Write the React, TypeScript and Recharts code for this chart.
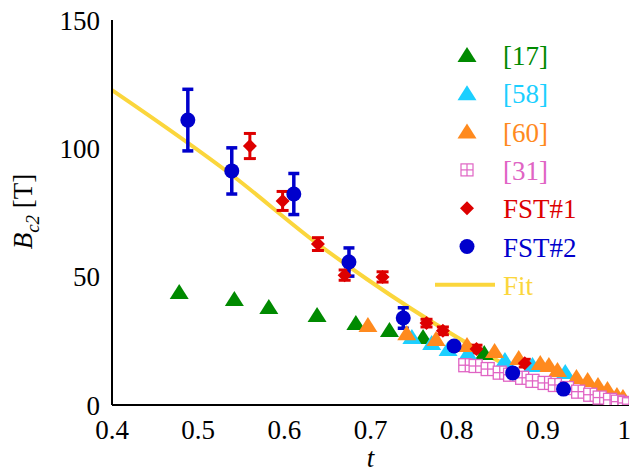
import React from 'react';
import { ComposedChart, Scatter, Line, XAxis, YAxis, ErrorBar, Legend } from 'recharts';

const FONT = "'Liberation Serif', 'Times New Roman', Tinos, 'DejaVu Serif', serif";

const xTicks = [0.4, 0.5, 0.6, 0.7, 0.8, 0.9, 1];
const yMajorTicks = [0, 50, 100, 150];
const yMinorTicks = [0, 10, 20, 30, 40, 50, 60, 70, 80, 90, 100, 110, 120, 130, 140, 150];

// [17]
const ref17T = [0.478, 0.542, 0.582, 0.638, 0.683, 0.722, 0.761, 0.832];
const ref17B = [44.0, 41.3, 38.2, 35.1, 31.9, 29.2, 26.5, 20.3];
// [58]
const ref58T = [0.748, 0.771, 0.79, 0.813, 0.856, 0.888, 0.926];
const ref58B = [26.5, 24.2, 21.8, 20.3, 17.5, 15.6, 12.9];
// [60]
const ref60T = [0.697, 0.742, 0.776, 0.812, 0.844, 0.872, 0.897, 0.907, 0.917, 0.939, 0.952, 0.964, 0.975, 0.986, 0.993];
const ref60B = [31.2, 28.0, 25.7, 23.4, 21.0, 18.3, 16.4, 15.6, 13.6, 10.9, 9.7, 7.8, 6.2, 3.9, 3.1];
// [31]
const ref31T = [0.81, 0.822, 0.836, 0.85, 0.862, 0.876, 0.888, 0.902, 0.914, 0.928, 0.941, 0.955, 0.966, 0.978, 0.987, 0.995, 1.0];
const ref31B = [15.5, 15.2, 14.0, 12.6, 11.8, 10.6, 9.4, 8.6, 7.8, 6.6, 5.2, 4.0, 2.9, 2.0, 1.3, 0.8, 0.3];
// FST#1
const fst1T = [0.56, 0.598, 0.639, 0.67, 0.714, 0.765, 0.784, 0.823, 0.879];
const fst1B = [100.9, 79.5, 62.7, 50.6, 49.9, 31.9, 28.9, 21.8, 16.3];
const fst1E = [4.9, 3.7, 2.5, 2.0, 2.0, 1.5, 1.5, 1.5, 1.5];
// FST#2
const fst2T = [0.488, 0.539, 0.611, 0.675, 0.738, 0.797, 0.865, 0.924];
const fst2B = [111.0, 91.2, 82.2, 55.7, 33.9, 23.0, 12.5, 6.2];
const fst2E = [12, 9, 8, 5.5, 4, 0, 0, 0];
// Fit
const fitT = [0.4, 0.539, 0.639, 0.696, 0.8, 0.85];
const fitB = [122.7, 89.6, 62.7, 49.0, 26.5, 16.8];

const C17 = '#008a00';
const C58 = '#1ccfff';
const C60 = '#ff8a1e';
const C31 = '#e064c4';
const CF1 = '#dd0000';
const CF2 = '#0000cc';
const CFIT = '#fbd63c';

const zip = (t: number[], b: number[], e?: number[]) =>
  t.map((v, i) => ({ t: v, B: b[i], err: e ? e[i] : 0 }));

const d17 = zip(ref17T, ref17B);
const d58 = zip(ref58T, ref58B);
const d60 = zip(ref60T, ref60B);
const d31 = zip(ref31T, ref31B);
const dF1 = zip(fst1T, fst1B, fst1E);
const dF2 = zip(fst2T, fst2B, fst2E);
const dFit = zip(fitT, fitB);

const triPath = (cx: number, cy: number) =>
  `M${cx},${cy - 8} L${cx + 9.5},${cy + 7} L${cx - 9.5},${cy + 7} Z`;

const makeTri = (color: string) => (p: any) => (
  <path d={triPath(p.cx, p.cy)} fill={color} />
);

const SquareShape = (p: any) => {
  const { cx, cy } = p;
  const h = 6.5;
  return (
    <g stroke={C31} strokeWidth={1.3} fill="#fff">
      <rect x={cx - h} y={cy - h} width={2 * h} height={2 * h} />
      <line x1={cx} y1={cy - h} x2={cx} y2={cy + h} />
      <line x1={cx - h} y1={cy} x2={cx + h} y2={cy} />
    </g>
  );
};

const DiamondShape = (p: any) => {
  const { cx, cy } = p;
  const h = 7;
  return <path d={`M${cx},${cy - h} L${cx + h},${cy} L${cx},${cy + h} L${cx - h},${cy} Z`} fill={CF1} />;
};

const CircleShape = (p: any) => <circle cx={p.cx} cy={p.cy} r={7.5} fill={CF2} />;

const legendItems = [
  { label: '[17]', color: C17, kind: 'tri17' },
  { label: '[58]', color: C58, kind: 'tri58' },
  { label: '[60]', color: C60, kind: 'tri60' },
  { label: '[31]', color: C31, kind: 'sq' },
  { label: 'FST#1', color: CF1, kind: 'dia' },
  { label: 'FST#2', color: CF2, kind: 'cir' },
  { label: 'Fit', color: CFIT, kind: 'line' },
];

const renderLegend = () => (
  <svg width={200} height={275} style={{ display: 'block', overflow: 'visible' }}>
    {legendItems.map((it, i) => {
      const cy = 25 + i * 38.3;
      const mx = 37;
      let marker: any = null;
      if (it.kind.startsWith('tri')) marker = <path d={triPath(mx, cy)} fill={it.color} />;
      else if (it.kind === 'sq') {
        const h = 6;
        marker = (
          <g stroke={it.color} strokeWidth={1.2} fill="none">
            <rect x={mx - h} y={cy - h} width={2 * h} height={2 * h} />
            <line x1={mx} y1={cy - h} x2={mx} y2={cy + h} />
            <line x1={mx - h} y1={cy} x2={mx + h} y2={cy} />
          </g>
        );
      } else if (it.kind === 'dia') {
        const h = 7;
        marker = <path d={`M${mx},${cy - h} L${mx + h},${cy} L${mx},${cy + h} L${mx - h},${cy} Z`} fill={it.color} />;
      } else if (it.kind === 'cir') marker = <circle cx={mx} cy={cy} r={7.5} fill={it.color} />;
      else marker = <line x1={5} y1={cy} x2={65} y2={cy} stroke={it.color} strokeWidth={4} />;
      return (
        <g key={it.label}>
          {marker}
          <text x={73} y={cy + 10} fontSize={27} style={{ fontFamily: FONT }} fill={it.color}>
            {it.label}
          </text>
        </g>
      );
    })}
  </svg>
);

const xLabel = (props: any) => {
  const vb = props.viewBox || {};
  return (
    <text x={vb.x + vb.width / 2} y={vb.y + vb.height - 5} textAnchor="middle" fontSize={27} style={{ fontFamily: FONT }} fontStyle="italic" fill="#000">
      t
    </text>
  );
};

const yLabel = (props: any) => {
  const vb = props.viewBox || {};
  const cx = 32;
  const cy = vb.y + vb.height / 2 - 1;
  return (
    <text transform={`translate(${cx},${cy}) rotate(-90)`} textAnchor="middle" fontSize={27} style={{ fontFamily: FONT }} fill="#000">
      <tspan fontStyle="italic">B</tspan>
      <tspan fontStyle="italic" fontSize={19} dy={7}>c2</tspan>
      <tspan dy={-7}> [T]</tspan>
    </text>
  );
};

const tickStyle = { fontSize: 27, fontFamily: FONT, fill: '#000', style: { fontFamily: FONT } };
const axisStroke = { stroke: '#000', strokeWidth: 2 };
const tickStroke = { stroke: '#000', strokeWidth: 1.5 };

export default function App() {
  return (
    <div style={{ position: 'absolute', left: 0, top: 0, width: 631, height: 472, background: '#fff', fontFamily: FONT }}>
      <ComposedChart width={631} height={472} margin={{ top: 20, right: 2, bottom: 0, left: 0 }} style={{ fontFamily: FONT }}>
        <XAxis
          xAxisId="x"
          dataKey="t"
          type="number"
          domain={[0.4, 1]}
          ticks={xTicks}
          allowDataOverflow
          height={67}
          tickLine={false}
          tickMargin={9}
          axisLine={axisStroke}
          tick={tickStyle}
          tickFormatter={(v: number) => (v === 1 ? '1' : v.toFixed(1))}
          label={xLabel}
        />
        <XAxis xAxisId="xb" type="number" domain={[0.4, 1]} ticks={xTicks} allowDataOverflow orientation="bottom" mirror height={0} tick={false} tickSize={11} axisLine={false} tickLine={tickStroke} />
        <XAxis xAxisId="xt" type="number" domain={[0.4, 1]} ticks={xTicks} allowDataOverflow orientation="top" mirror height={0} tick={false} tickSize={11} axisLine={axisStroke} tickLine={tickStroke} />
        <YAxis
          yAxisId="y"
          dataKey="B"
          type="number"
          domain={[0, 150]}
          ticks={yMajorTicks}
          allowDataOverflow
          width={112}
          tickLine={false}
          tickMargin={6}
          axisLine={axisStroke}
          tick={tickStyle}
          label={yLabel}
        />
        <YAxis yAxisId="ylM" type="number" domain={[0, 150]} ticks={yMajorTicks} allowDataOverflow orientation="left" mirror width={0} tick={false} tickSize={12} axisLine={false} tickLine={tickStroke} />
        <YAxis yAxisId="ylm" type="number" domain={[0, 150]} ticks={yMinorTicks} allowDataOverflow orientation="left" mirror width={0} tick={false} tickSize={7} axisLine={false} tickLine={tickStroke} />
        <YAxis yAxisId="yrM" type="number" domain={[0, 150]} ticks={yMajorTicks} allowDataOverflow orientation="right" mirror width={0} tick={false} tickSize={12} axisLine={axisStroke} tickLine={tickStroke} />
        <YAxis yAxisId="yrm" type="number" domain={[0, 150]} ticks={yMinorTicks} allowDataOverflow orientation="right" mirror width={0} tick={false} tickSize={7} axisLine={false} tickLine={tickStroke} />

        <Legend layout="vertical" align="center" verticalAlign="middle" content={renderLegend} wrapperStyle={{ left: 430, top: 30, width: 200, height: 275 }} />

        <Line xAxisId="x" yAxisId="y" data={dFit} dataKey="B" type="monotone" stroke={CFIT} strokeWidth={4} dot={false} activeDot={false} isAnimationActive={false} />
        <Scatter xAxisId="x" yAxisId="y" data={d17} dataKey="B" shape={makeTri(C17)} isAnimationActive={false} />
        <Scatter xAxisId="x" yAxisId="y" data={d58} dataKey="B" shape={makeTri(C58)} isAnimationActive={false} />
        <Scatter xAxisId="x" yAxisId="y" data={d60} dataKey="B" shape={makeTri(C60)} isAnimationActive={false} />
        <Scatter xAxisId="x" yAxisId="y" data={d31} dataKey="B" shape={SquareShape} isAnimationActive={false} />
        <Scatter xAxisId="x" yAxisId="y" data={dF1} dataKey="B" shape={DiamondShape} isAnimationActive={false}>
          <ErrorBar dataKey="err" direction="y" width={6} stroke={CF1} strokeWidth={3} isAnimationActive={false} />
        </Scatter>
        <Scatter xAxisId="x" yAxisId="y" data={dF2} dataKey="B" shape={CircleShape} isAnimationActive={false}>
          <ErrorBar dataKey="err" direction="y" width={5.5} stroke={CF2} strokeWidth={3.5} isAnimationActive={false} />
        </Scatter>
      </ComposedChart>
    </div>
  );
}
